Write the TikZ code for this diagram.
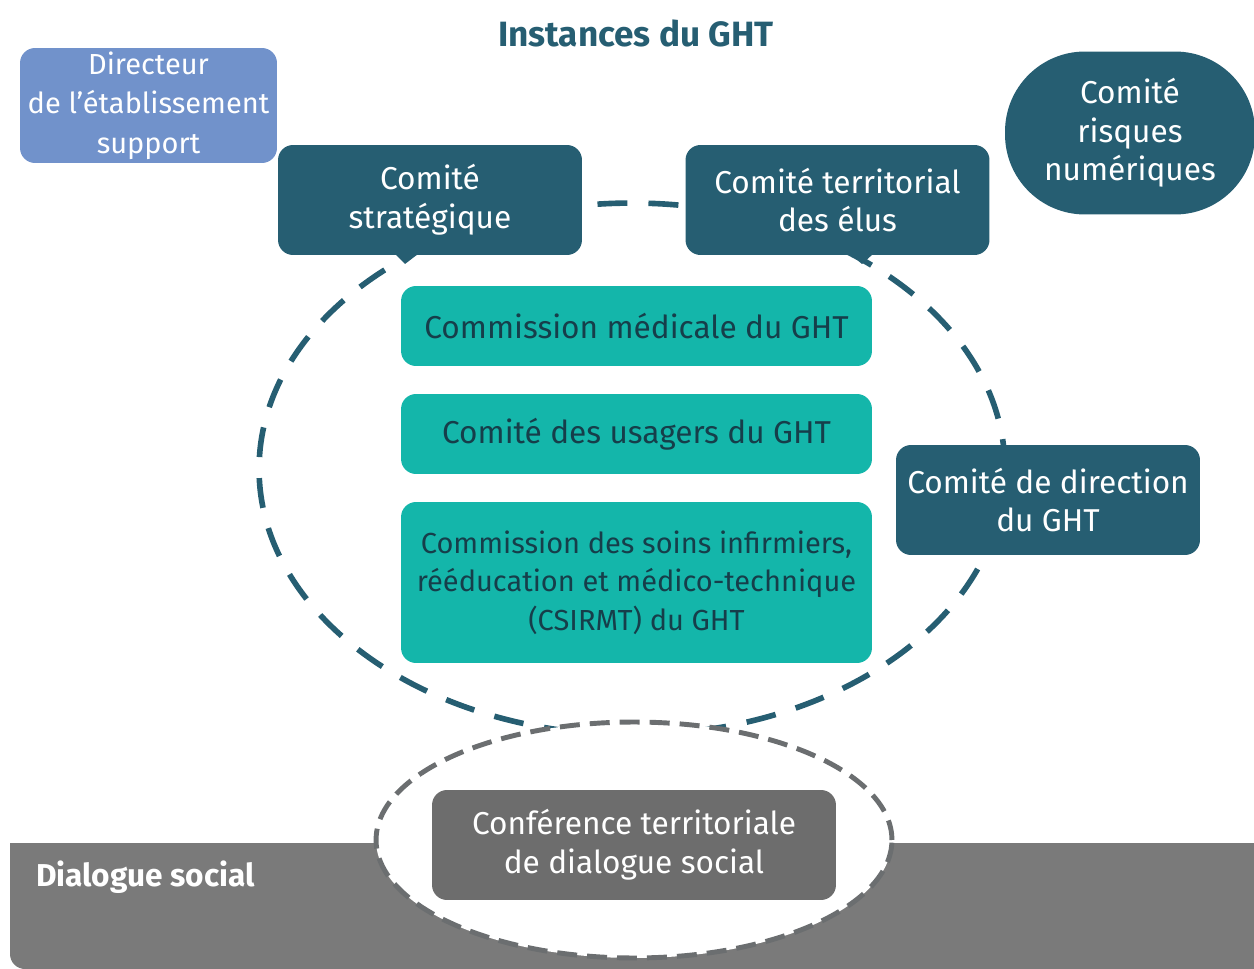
\documentclass[tikz,border=0pt]{standalone}
\usepackage{fontspec}
\setmainfont{Fira Sans}
\usetikzlibrary{positioning,shapes.geometric}

\definecolor{tealdark}{HTML}{265E72}
\definecolor{tealgreen}{HTML}{14B6AA}
\definecolor{bluesoft}{HTML}{7192CB}
\definecolor{bandgray}{HTML}{7A7A7A}
\definecolor{boxgray}{HTML}{6D6D6D}
\definecolor{dashgray}{HTML}{6B6E70}
\definecolor{textdark}{HTML}{163E4A}

\begin{document}
\begin{tikzpicture}[x=0.02cm,y=-0.02cm,
		box/.style={rectangle,rounded corners=0.3cm,align=center,inner sep=2pt,
			font=\fontsize{18}{22}\selectfont},
		instance/.style={box,fill=tealdark,text=white,minimum width=6.08cm,minimum height=2.2cm},
		commission/.style={box,fill=tealgreen,text=textdark,minimum width=9.42cm,minimum height=1.6cm},
		outer/.style={draw=tealdark,line width=3.2pt,dash pattern=on 0.6cm off 0.42cm}
		]
	\useasboundingbox (0,0) rectangle (1254,969);
	
	% Titre
	\node[font=\fontsize{20}{24}\selectfont\bfseries,text=tealdark] (titre) at (636,33) {Instances du GHT};
	
	% Grande ellipse du GHT
	% ----------------------
	\node[ellipse,outer,minimum width=14.92cm,minimum height=10.64cm] (ght) at (632,469) {};
	
	% Instances autour
	% ----------------------
	
		% Directeur
		\node[box,fill=bluesoft,text=white,minimum width=5.14cm,minimum height=2.3cm,
			font=\fontsize{16.5}{22.5}\selectfont] (dir) at (148.5,105.5) {Directeur\\de l’établissement\\support};
		
		% Comités du haut
		\node[instance] (strat) at (430,200) {Comité\\stratégique};
		\node[instance] (elus) at (837.5,200) {Comité territorial\\des élus};
		\fill[tealdark] (395,254) -- (418,254) -- (405,264) -- cycle;
		\fill[tealdark] (850,254) -- (873,254) -- (862,264) -- cycle;
		
		% Risques numériques
		\node[instance,rounded corners=1.6cm,minimum width=5cm,minimum height=3.26cm] (risques) at (1130,133) {Comité\\risques\\numériques};
		
		% Direction
		\node[instance] (codir) at (1048,500) {Comité de direction\\du GHT};
	
	% Commissions dans l'ellipse
	% ----------------------
	\node[commission] (cme) at (636.5,326) {Commission médicale du GHT};
	\node[commission] (cdu) at (636.5,434) {Comité des usagers du GHT};
	\node[commission,minimum height=3.22cm,font=\fontsize{16.5}{22}\selectfont] (csirmt) at (636.5,582.5) {Commission des soins infirmiers,\\rééducation et médico-technique\\(CSIRMT) du GHT};
	
	% Dialogue social
	% ----------------------
	\fill[bandgray,rounded corners=0.3cm] (10,843) rectangle (1280,969);
	\fill[bandgray] (10,843) rectangle (1280,900);
	\fill[bandgray] (200,843) rectangle (1280,990);
	\node[anchor=west,text=white,font=\fontsize{18}{22}\selectfont\bfseries] (dialogue) at (30,877) {Dialogue social};
	
	\node[ellipse,fill=white,draw=dashgray,line width=2.8pt,dash pattern=on 0.4cm off 0.2cm,
		minimum width=10.32cm,minimum height=4.72cm] (social) at (634,840) {};
	\node[box,fill=boxgray,text=white,minimum width=8.08cm,minimum height=2.2cm] (cts) at (634,845) {Conférence territoriale\\de dialogue social};
	
\end{tikzpicture}
\end{document}
